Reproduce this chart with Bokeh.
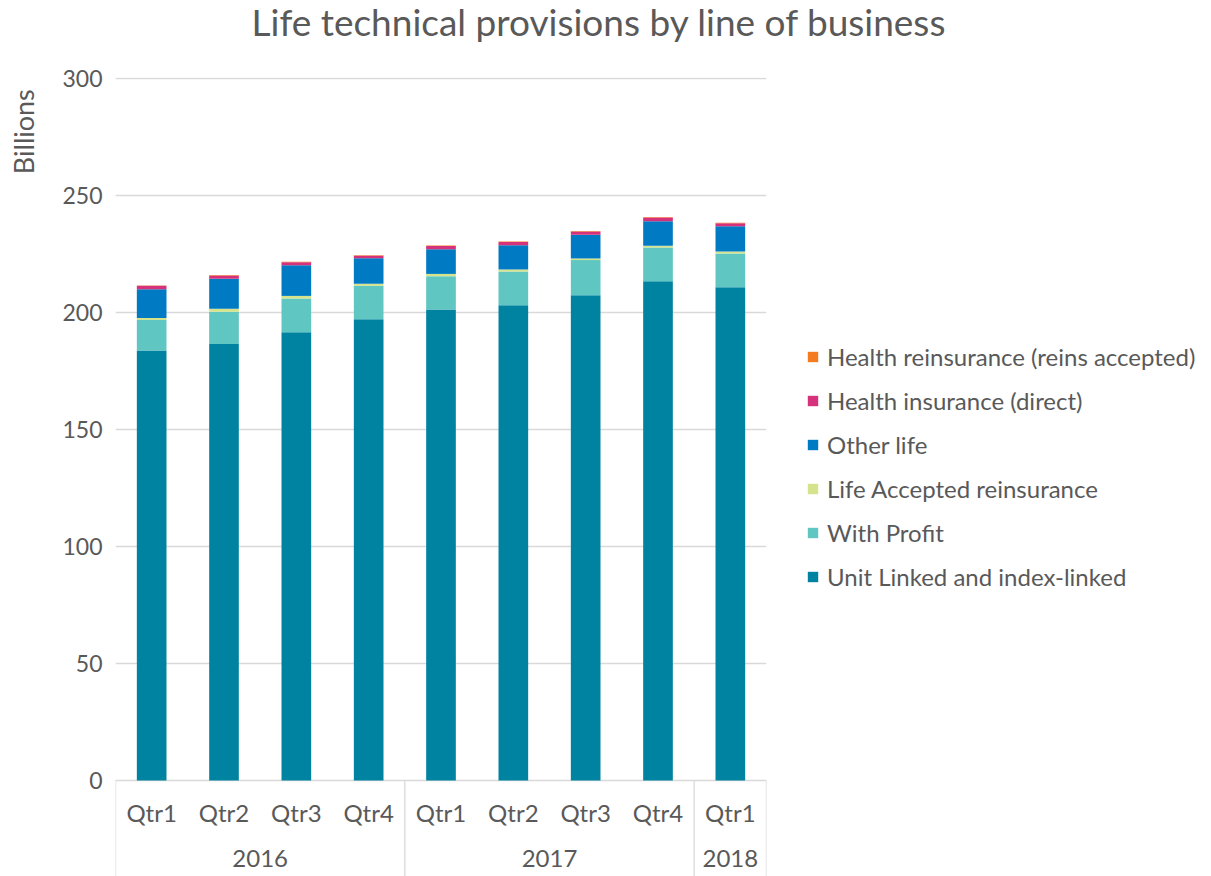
import math
from bokeh.plotting import figure
from bokeh.layouts import column, row
from bokeh.models import Range1d, FixedTicker, Legend, LegendItem, ColumnDataSource
from bokeh.core.properties import value
from bokeh.embed import file_html
from bokeh.resources import INLINE

years = ["2016", "2016", "2016", "2016", "2017", "2017", "2017", "2017", "2018"]
quarters = ["Qtr1", "Qtr2", "Qtr3", "Qtr4", "Qtr1", "Qtr2", "Qtr3", "Qtr4", "Qtr1"]
unit_linked = [183.8, 186.5, 191.6, 197.1, 201.3, 203.1, 207.4, 213.4, 210.8]
with_profit = [13.0, 13.8, 14.4, 14.3, 14.2, 14.4, 15.0, 14.4, 14.4]
life_accepted = [0.9, 1.3, 1.1, 0.9, 1.0, 0.9, 0.7, 0.7, 0.9]
other_life = [12.2, 12.8, 13.1, 10.9, 10.5, 10.3, 10.1, 10.5, 10.8]
health_direct = [1.5, 1.4, 1.3, 1.1, 1.4, 1.4, 1.4, 1.6, 1.2]
health_reins = [0.2, 0.2, 0.2, 0.2, 0.2, 0.2, 0.2, 0.2, 0.3]

series_names = ["Unit Linked and index-linked", "With Profit", "Life Accepted reinsurance",
                "Other life", "Health insurance (direct)", "Health reinsurance (reins accepted)"]
series_values = [unit_linked, with_profit, life_accepted, other_life, health_direct, health_reins]
colors = ["#0083a0", "#5fc6c2", "#d5e48c", "#007ac3", "#d6317b", "#f47c20"]
y_ticks = [0, 50, 100, 150, 200, 250, 300]
title_text = "Life technical provisions by line of business"
y_title = "Billions"

FONT = "Lato"
TXT = "#595959"
GRID = "#d9d9d9"
Y_BOTTOM = -41.0
Y_TOP = 300.43
FRAME_W, FRAME_H = 651, 799
SIDE_W, LEFT_W, RIGHT_W = 50, 65, 437
TOP_H, PAD_TOP = 57, 20
MAIN_H = FRAME_H + PAD_TOP
TOTAL_W = SIDE_W + LEFT_W + FRAME_W + RIGHT_W


def blank_fig(w, h):
    f = figure(width=w, height=h, output_backend="svg", toolbar_location=None,
               x_range=Range1d(0, w), y_range=Range1d(0, h),
               x_axis_location=None, y_axis_location=None, min_border=0)
    f.outline_line_color = None
    f.xgrid.visible = False
    f.ygrid.visible = False
    return f


# title strip
t = blank_fig(TOTAL_W, TOP_H)
t.text(x=[251], y=[TOP_H - 21], text=[title_text], text_font=value(FONT), text_font_size="37px",
       text_color=TXT, text_align="left", text_baseline="middle")

# y-axis title strip (placed near the top, as in the reference)
b = blank_fig(SIDE_W, MAIN_H)
b.text(x=[23], y=[MAIN_H - 12], text=[y_title], angle=math.pi / 2, text_font=value(FONT),
       text_font_size="27px", text_color=TXT, text_align="right", text_baseline="middle")

# main chart
n = len(quarters)
keys = ["s%d" % i for i in range(len(series_names))]
data = {"x": [i + 0.5 for i in range(n)]}
for k, v in zip(keys, series_values):
    data[k] = v
src = ColumnDataSource(data)

p = figure(frame_width=FRAME_W, frame_height=FRAME_H, output_backend="svg", toolbar_location=None,
           x_range=Range1d(0, n), y_range=Range1d(Y_BOTTOM, Y_TOP),
           x_axis_location=None, min_border_left=LEFT_W, min_border_top=PAD_TOP,
           min_border_bottom=0, min_border_right=RIGHT_W)
p.outline_line_color = None
p.background_fill_color = "white"

ya = p.yaxis[0]
ya.ticker = FixedTicker(ticks=y_ticks)
ya.axis_line_color = None
ya.major_tick_line_color = None
ya.minor_tick_line_color = None
ya.major_tick_out = 0
ya.major_tick_in = 0
ya.major_label_standoff = 13
ya.major_label_text_font = FONT
ya.major_label_text_font_size = "23px"
ya.major_label_text_color = TXT

p.xgrid.visible = False
p.ygrid.ticker = FixedTicker(ticks=y_ticks)
p.ygrid.grid_line_color = GRID
p.ygrid.grid_line_width = 1.3

rs = p.vbar_stack(keys, x="x", width=0.41, source=src, color=colors, line_color=None)

# category axis (quarters and years) with group separators
p.text(x=data["x"], y=[-13.7] * n, text=quarters, text_font=value(FONT), text_font_size="24px",
       text_color=TXT, text_align="center", text_baseline="middle")
groups = []
for i, yr in enumerate(years):
    if not groups or groups[-1][0] != yr:
        groups.append([yr, i, i + 1])
    else:
        groups[-1][2] = i + 1
p.text(x=[(g[1] + g[2]) / 2 for g in groups], y=[-33.3] * len(groups), text=[g[0] for g in groups],
       text_font=value(FONT), text_font_size="24px", text_color=TXT, text_align="center",
       text_baseline="middle")
bounds = [groups[0][1]] + [g[2] for g in groups]
p.segment(x0=bounds, x1=bounds, y0=[0] * len(bounds), y1=[Y_BOTTOM] * len(bounds),
          line_color=GRID, line_width=1.3)

items = [LegendItem(label=name, renderers=[r]) for name, r in zip(series_names, rs)][::-1]
legend = Legend(items=items, location=(40, 285), padding=0, margin=0, spacing=14,
                label_height=30, glyph_height=13, glyph_width=13, label_standoff=8,
                label_text_font=FONT, label_text_font_size="24px", label_text_color=TXT,
                border_line_color=None, background_fill_alpha=0)
p.add_layout(legend, "right")

layout = column(t, row(b, p, spacing=0), spacing=0)
open("out.html", "w").write(file_html(layout, INLINE))
